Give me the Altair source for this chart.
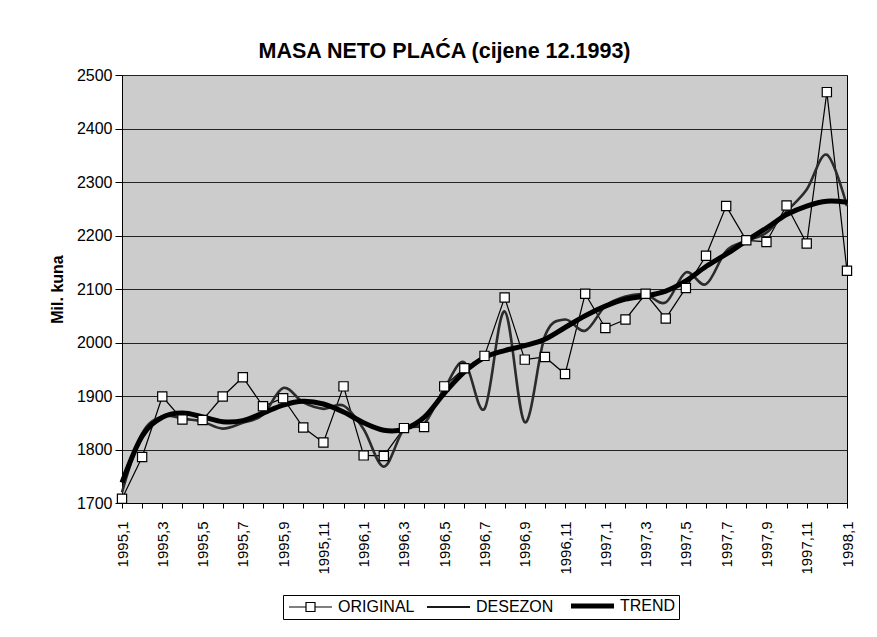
import altair as alt
import pandas as pd

# ---------------- data ----------------
months = [f"{y},{m}" for y in (1995, 1996, 1997) for m in range(1, 13)] + ["1998,1"]

original = [1708, 1786, 1899, 1856, 1855, 1899, 1935, 1881, 1896, 1841, 1813, 1918,
            1789, 1788, 1840, 1842, 1918, 1952, 1975, 2084, 1968, 1973, 1941, 2091,
            2027, 2043, 2091, 2045, 2102, 2162, 2255, 2191, 2188, 2256, 2185, 2468,
            2134]
desezon = [1720, 1830, 1862, 1858, 1852, 1839, 1850, 1865, 1915, 1888, 1876, 1882,
           1838, 1768, 1838, 1848, 1913, 1963, 1876, 2058, 1851, 2012, 2043, 2022,
           2068, 2086, 2090, 2075, 2131, 2109, 2171, 2190, 2205, 2245, 2286, 2351,
           2255]
trend = [1738, 1825, 1860, 1868, 1861, 1852, 1854, 1868, 1883, 1890, 1885, 1870,
         1850, 1836, 1838, 1860, 1905, 1945, 1972, 1985, 1994, 2006, 2028, 2050,
         2068, 2081, 2087, 2096, 2115, 2142, 2165, 2190, 2214, 2239, 2255, 2264,
         2262]

series_names = ["ORIGINAL", "DESEZON", "TREND"]
y_ticks = [1700, 1800, 1900, 2000, 2100, 2200, 2300, 2400, 2500]
title_text = "MASA NETO PLAĆA  (cijene 12.1993)"
y_title = "Mil. kuna"

df = pd.DataFrame({"month": months, "ORIGINAL": original,
                   "DESEZON": desezon, "TREND": trend})
long_df = df.melt(id_vars="month", var_name="series", value_name="value")

FONT = "Liberation Sans"
W, H = 725, 428

# legend symbol glyphs (unit = half of sqrt(symbol size) = 5 px)
ORIG_PATH = "M-1,0H2.4M4.2,0H7.6M2.4,-0.9H4.2V0.9H2.4Z"
LINE_PATH = "M-1,0H7.6"

x_enc = alt.X(
    "month:N", sort=months,
    scale=alt.Scale(type="point", padding=0),
    axis=alt.Axis(title=None, labelAngle=270, labelAlign="right", labelBaseline="middle",
                  labelExpr="toNumber(split(datum.value, ',')[1]) % 2 == 1 ? datum.value : ''",
                  labelFontSize=15, labelColor="black", labelPadding=13, labelOverlap=False,
                  tickSize=5, tickColor="black", domainColor="black", grid=False),
)
y_enc = alt.Y(
    "value:Q",
    scale=alt.Scale(domain=[1700, 2500], nice=False, zero=False),
    axis=alt.Axis(values=y_ticks, format="d", title=y_title, titleFontSize=16,
                  titleFontWeight="bold", titleColor="black", titlePadding=11,
                  labelFontSize=16, labelColor="black", labelPadding=3, tickSize=7,
                  tickColor="black", domainColor="black",
                  grid=True, gridColor="#222222", gridWidth=1, gridOpacity=1),
)

base = alt.Chart(long_df)

orig_line = base.transform_filter(alt.datum.series == "ORIGINAL").mark_line(
    color="black", strokeWidth=1.2).encode(x=x_enc, y=y_enc)
des_line = base.transform_filter(alt.datum.series == "DESEZON").mark_line(
    color="#2b2b2b", strokeWidth=2.6, interpolate="cardinal").encode(x=x_enc, y=y_enc)
trend_line = base.transform_filter(alt.datum.series == "TREND").mark_line(
    color="black", strokeWidth=5, interpolate="cardinal").encode(x=x_enc, y=y_enc)
orig_pts = base.transform_filter(alt.datum.series == "ORIGINAL").mark_point(
    shape="square", filled=True, fill="white", stroke="black", strokeWidth=1.2,
    size=85, opacity=1).encode(x=x_enc, y=y_enc)

legend = alt.Legend(title=None, orient="none", legendX=161, legendY=520,
                    direction="horizontal", symbolSize=100,
                    labelFontSize=16, labelColor="black", labelOffset=36,
                    columnPadding=7, padding=3, strokeColor="black", fillColor="white")

# legend-only layer: no rows drawn, the legend comes from the scales' domains
legend_layer = base.transform_filter("false").mark_point(
    filled=False, fill="white", opacity=1).encode(
    x=x_enc, y=y_enc,
    color=alt.Color("series:N",
                    scale=alt.Scale(domain=series_names,
                                    range=["black", "#1a1a1a", "black"]),
                    legend=legend),
    shape=alt.Shape("series:N",
                    scale=alt.Scale(domain=series_names,
                                    range=[ORIG_PATH, LINE_PATH, LINE_PATH]),
                    legend=legend),
    strokeWidth=alt.StrokeWidth("series:N",
                                scale=alt.Scale(type="ordinal", domain=series_names,
                                                range=[1.2, 2.2, 5]),
                                legend=legend),
)

chart = alt.layer(orig_line, des_line, trend_line, orig_pts, legend_layer).properties(
    width=W, height=H,
    padding={"left": 114, "top": 67, "right": 20, "bottom": 120},
    autosize=alt.AutoSizeParams(type="none"),
    title=alt.Title(title_text, fontSize=21.5, fontWeight="bold", font=FONT,
                    color="black", anchor="middle", frame="group", dx=-40,
                    offset=12, dy=24, baseline="alphabetic"),
).configure(font=FONT).configure_view(fill="#cccccc", stroke="black", strokeWidth=1)

chart.save("out.html", embed_options={"renderer": "svg", "actions": False})
